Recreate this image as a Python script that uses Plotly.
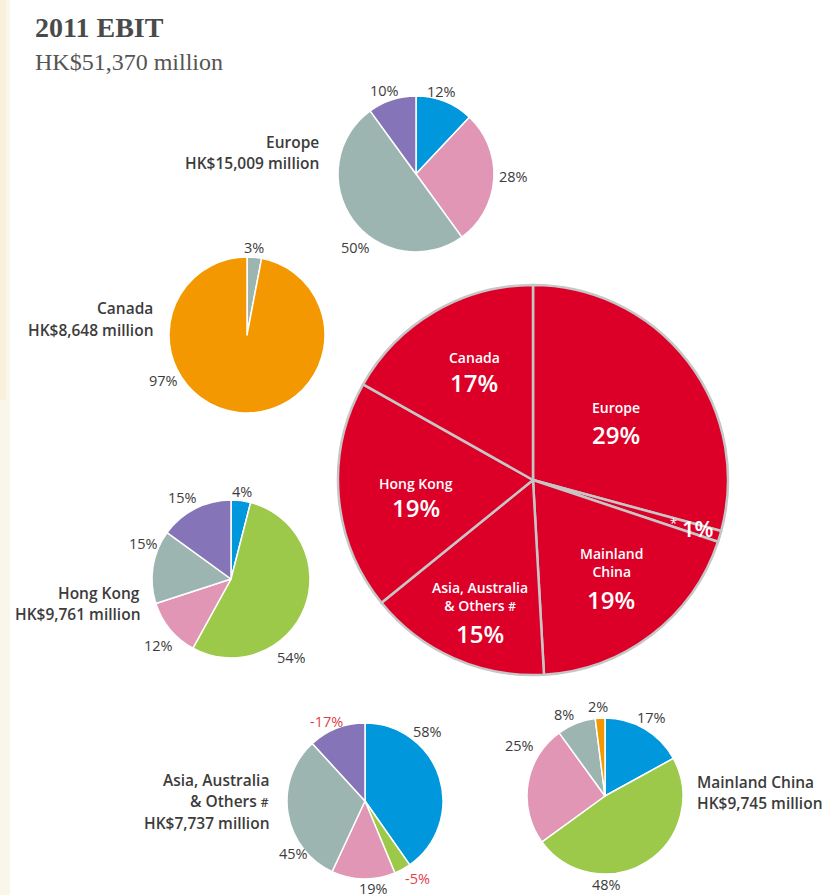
import plotly.graph_objects as go

# ---- data ----
total_label = "HK$51,370 million"
segments = ["Europe", "Other", "Mainland China", "Asia, Australia & Others", "Hong Kong", "Canada"]
segment_ebit = [15009, 470, 9745, 7737, 9761, 8648]

europe_pct = [12, 28, 50, 10]
canada_pct = [3, 97]
hongkong_pct = [4, 54, 12, 15, 15]
asia_pct = [58, -5, 19, 45, -17]
china_pct = [17, 48, 25, 8, 2]

# ---- style ----
W, H = 828, 895
BLUE = "#0097dc"
PINK = "#e096b4"
GREY = "#9db5b1"
PURPLE = "#8575b8"
GREEN = "#9cc94a"
ORANGE = "#f39800"
RED = "#dc0029"
TEXT = "#3c3c3c"
NEG = "#e0404a"
SANS = "Open Sans"
SERIF = "Liberation Serif"
HASH = "<span style='font-size:12px'>#</span>"


def px(x):
    return x / W


def py(y):
    return 1 - y / H


def domain(cx, cy, r):
    return dict(x=[px(cx - r), px(cx + r)], y=[py(cy + r), py(cy - r)])


fig = go.Figure()
annotations = []


def note(x, y, text, size=14, color=TEXT, weight=400, xanchor="center", family=SANS):
    annotations.append(dict(
        x=px(x), y=py(y), xref="paper", yref="paper", text=text, showarrow=False,
        xanchor=xanchor, yanchor="middle", align=xanchor,
        font=dict(family=family, size=size, color=color, weight=weight),
    ))


def small_pie(values, colors, cx, cy, r, label_pos):
    fig.add_trace(go.Pie(
        values=[abs(v) for v in values],
        marker=dict(colors=colors, line=dict(color="white", width=1.5)),
        sort=False, direction="clockwise", rotation=0,
        textinfo="none", hoverinfo="skip", showlegend=False,
        domain=domain(cx, cy, r),
    ))
    for v, (lx, ly) in zip(values, label_pos):
        note(lx, ly, f"{v}%", size=14.5, color=NEG if v < 0 else TEXT)


# big pie
fig.add_trace(go.Pie(
    values=segment_ebit, labels=segments,
    marker=dict(colors=[RED] * len(segments), line=dict(color="#c6c6c6", width=2.5)),
    sort=False, direction="clockwise", rotation=0,
    textinfo="none", hoverinfo="skip", showlegend=False,
    domain=domain(533, 480, 195),
))

small_pie(europe_pct, [BLUE, PINK, GREY, PURPLE], 416, 174, 78,
          [(441, 91), (513, 176), (355, 247), (384, 90)])
small_pie(canada_pct, [GREY, ORANGE], 247, 335, 78,
          [(254, 248), (163, 380)])
small_pie(hongkong_pct, [BLUE, GREEN, PINK, GREY, PURPLE], 231, 579, 79,
          [(242, 491), (291, 657), (158, 645), (143, 543), (182, 497)])
small_pie(asia_pct, [BLUE, GREEN, PINK, GREY, PURPLE], 365, 801, 78,
          [(428, 731), (417, 878), (373, 888), (293, 853), (326, 721)])
small_pie(china_pct, [BLUE, GREEN, PINK, GREY, ORANGE], 605, 796, 78,
          [(651, 717), (606, 884), (519, 745), (564, 714), (598, 706)])

# big pie labels
big_labels = [
    (616, 408, 434, "Europe", 0),
    (611, 552, 599, "Mainland<br>China", 2),
    (480, 586, 633, "Asia, Australia<br>& Others " + HASH, 3),
    (416, 483, 508, "Hong Kong", 4),
    (474, 357, 383, "Canada", 5),
]
tot = sum(segment_ebit)
for x, y1, y2, name, i in big_labels:
    pct = round(segment_ebit[i] / tot * 100)
    ny = y1 + (10 if "<br>" in name else 0)
    note(x, ny, name, size=14, color="white", weight=600)
    note(x, y2, f"{pct}%", size=24, color="white", weight=600)
note(673, 523, "*", size=13, color="white")
note(698, 528, f"{max(1, round(segment_ebit[1] / tot * 100))}%", size=22, color="white", weight=600)

# region titles
TS = 15.5
note(321, 142, "Europe", size=TS, weight=600, xanchor="right")
note(321, 163, "HK$15,009 million", size=TS, weight=600, xanchor="right")
note(155, 308, "Canada", size=TS, weight=600, xanchor="right")
note(155, 330, "HK$8,648 million", size=TS, weight=600, xanchor="right")
note(142, 593, "Hong Kong", size=TS, weight=600, xanchor="right")
note(142, 614, "HK$9,761 million", size=TS, weight=600, xanchor="right")
note(271, 780, "Asia, Australia", size=TS, weight=600, xanchor="right")
note(271, 801, "& Others " + HASH, size=TS, weight=600, xanchor="right")
note(271, 823, "HK$7,737 million", size=TS, weight=600, xanchor="right")
note(695, 782, "Mainland China", size=TS, weight=600, xanchor="left")
note(695, 803, "HK$9,745 million", size=TS, weight=600, xanchor="left")

# chart title
note(33, 28, "2011 EBIT", size=28, color="#4a4a4a", weight=700, xanchor="left", family=SERIF)
note(33, 62, total_label, size=24, color="#555555", xanchor="left", family=SERIF)

fig.update_layout(
    width=W, height=H,
    margin=dict(l=0, r=0, t=0, b=0),
    paper_bgcolor="white", plot_bgcolor="white",
    annotations=annotations,
    shapes=[
        dict(type="rect", xref="paper", yref="paper", x0=0, x1=px(10), y0=0, y1=1,
             fillcolor="#fbf6ea", line=dict(width=0), layer="below"),
        dict(type="rect", xref="paper", yref="paper", x0=0, x1=px(6), y0=py(400), y1=1,
             fillcolor="#f8efdc", line=dict(width=0), layer="below"),
    ],
)

fig.write_html("out.html", config={"displayModeBar": False},
               post_script="document.body.style.margin='0';")
